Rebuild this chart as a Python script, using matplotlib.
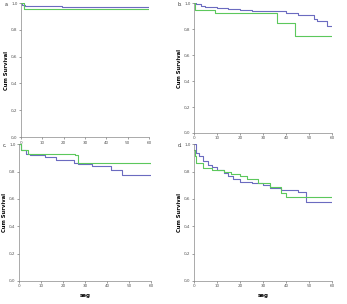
import matplotlib.pyplot as plt

# survival curves (time in seg, cum survival)
a_blue_t = [0, 0.5, 2, 19, 60]
a_blue_s = [1.0, 0.985, 0.978, 0.968, 0.968]
a_green_t = [0, 1.5, 60]
a_green_s = [1.0, 0.955, 0.955]

b_blue_t = [0, 1, 3, 5, 10, 15, 20, 25, 35, 40, 45, 52, 53.5, 58, 60]
b_blue_s = [1.0, 0.99, 0.98, 0.97, 0.96, 0.955, 0.95, 0.94, 0.935, 0.92, 0.91, 0.88, 0.86, 0.82, 0.82]
b_green_t = [0, 0.5, 9, 36, 44, 60]
b_green_s = [1.0, 0.95, 0.92, 0.85, 0.75, 0.75]

c_blue_t = [0, 1, 3, 5, 12, 17, 25, 27, 33, 42, 47, 60]
c_blue_s = [1.0, 0.96, 0.93, 0.918, 0.905, 0.886, 0.866, 0.856, 0.837, 0.81, 0.775, 0.775]
c_green_t = [0, 1, 4, 25.5, 27, 60]
c_green_s = [1.0, 0.96, 0.93, 0.918, 0.866, 0.856]

d_blue_t = [0, 1, 2, 4, 6, 8, 10, 13, 15, 17, 20, 25, 30, 33, 38, 45, 48.5, 60]
d_blue_s = [1.0, 0.935, 0.91, 0.875, 0.85, 0.83, 0.81, 0.79, 0.765, 0.745, 0.72, 0.715, 0.70, 0.68, 0.665, 0.65, 0.58, 0.58]
d_green_t = [0, 0.5, 1, 4, 8, 13, 16, 20, 23, 28, 33, 38, 40, 60]
d_green_s = [0.96, 0.91, 0.86, 0.825, 0.81, 0.80, 0.78, 0.765, 0.745, 0.715, 0.69, 0.645, 0.615, 0.615]

y_ticks = [0.0, 0.2, 0.4, 0.6, 0.8, 1.0]
y_labels = ['0,0', '0,2', '0,4', '0,6', '0,8', '1,0']
x_ticks = [0, 10, 20, 30, 40, 50, 60]

blue = '#6b6bc0'
green = '#5cc85c'

fig = plt.figure(figsize=(3.47, 3.04), dpi=100)

panels = [
    ('a.', [0.0605, 0.549, 0.369, 0.441], a_blue_t, a_blue_s, a_green_t, a_green_s, False),
    ('b.', [0.559, 0.5625, 0.398, 0.4275], b_blue_t, b_blue_s, b_green_t, b_green_s, False),
    ('c.', [0.0548, 0.0757, 0.380, 0.450], c_blue_t, c_blue_s, c_green_t, c_green_s, True),
    ('d.', [0.559, 0.0757, 0.398, 0.450], d_blue_t, d_blue_s, d_green_t, d_green_s, True),
]

for letter, rect, bt, bs, gt, gs, show_xlabel in panels:
    ax = fig.add_axes(rect)
    ax.plot(bt, bs, drawstyle='steps-post', color=blue, lw=0.8)
    ax.plot(gt, gs, drawstyle='steps-post', color=green, lw=0.8)
    ax.set_xlim(0, 60)
    ax.set_ylim(0, 1.0)
    ax.set_yticks(y_ticks)
    ax.set_yticklabels(y_labels)
    ax.set_xticks(x_ticks)
    ax.tick_params(labelsize=3, length=1.5, width=0.4, pad=1, colors='#555555')
    for side in ['top', 'right']:
        ax.spines[side].set_visible(False)
    for side in ['left', 'bottom']:
        ax.spines[side].set_linewidth(0.5)
        ax.spines[side].set_color('#888888')
    ax.set_ylabel('Cum Survival', fontsize=3.8, fontweight='bold')
    ax.yaxis.set_label_coords(-0.09, 0.5)
    if show_xlabel:
        ax.set_xlabel('seg', fontsize=4, fontweight='bold', labelpad=3)
    fig.text(rect[0] - 0.048, rect[1] + rect[3] - 0.01, letter, fontsize=3.5, color='#333333')

fig.savefig('out.png', dpi=100)
